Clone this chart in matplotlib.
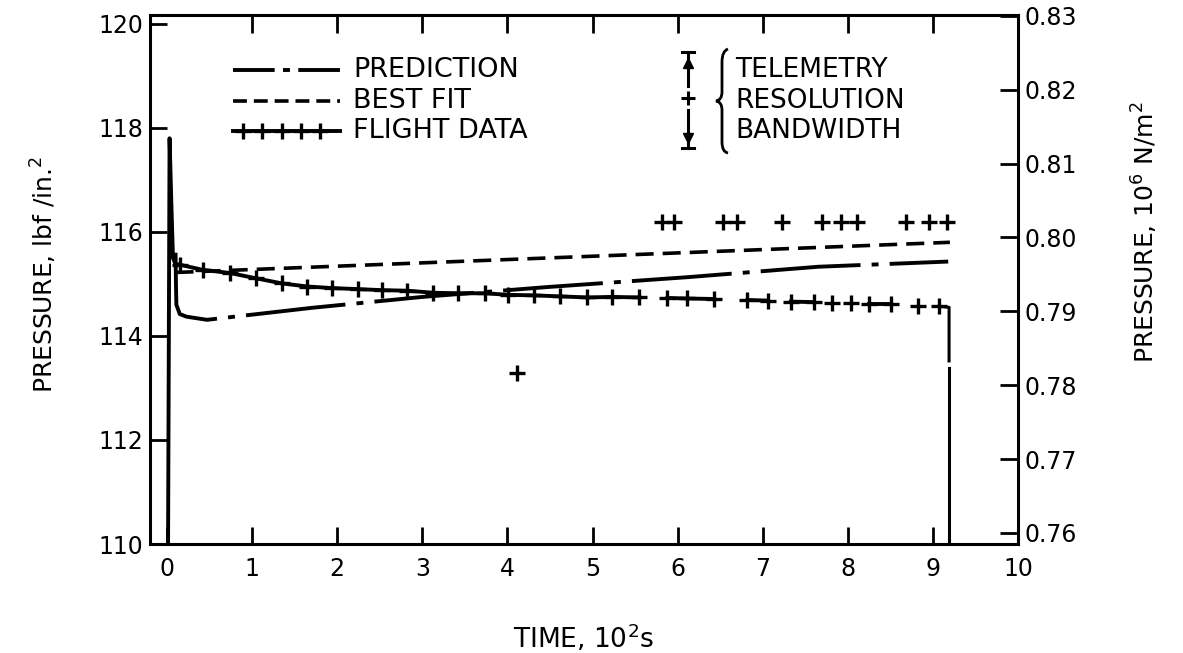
import numpy as np
import matplotlib
matplotlib.use("Agg")
from matplotlib import pyplot as plt
from matplotlib.path import Path
from matplotlib.patches import PathPatch

# time in 10^2 s, pressure in lbf/in.^2
spike_t = [0.01, 0.03, 0.05, 0.07, 0.10, 0.15]
spike_p = [109.0, 117.8, 116.6, 115.5, 115.38, 115.37]

flight_t = [0.15, 0.42, 0.74, 1.04, 1.35, 1.65, 1.94, 2.24, 2.53, 2.82, 3.13,
            3.42, 3.74, 4.01, 4.31, 4.62, 4.94, 5.23, 5.55, 5.88, 6.11, 6.43,
            6.82, 7.06, 7.33, 7.60, 7.82, 8.04, 8.25, 8.51, 8.82, 9.07]
flight_p = [115.37, 115.27, 115.21, 115.11, 115.01, 114.95, 114.92, 114.90,
            114.88, 114.87, 114.83, 114.82, 114.82, 114.79, 114.78, 114.76,
            114.74, 114.75, 114.74, 114.73, 114.72, 114.71, 114.69, 114.68,
            114.66, 114.65, 114.64, 114.63, 114.62, 114.62, 114.57, 114.57]
# line is broken after these points in the late part of the record
flight_breaks = [18, 21, 23, 25, 26, 27, 29, 30]

# engine cutoff trace
cutoff_t = [9.07, 9.19, 9.19, 9.19, 9.19]
cutoff_p = [114.57, 114.55, 113.52, 113.38, 109.0]

# scattered telemetry points
stray_t = [5.82, 5.96, 6.53, 6.70, 7.23, 7.70, 7.92, 8.11, 8.68, 8.96, 9.17, 4.11]
stray_p = [116.2, 116.2, 116.2, 116.2, 116.2, 116.2, 116.2, 116.2, 116.2, 116.2, 116.2, 113.29]

pred_t = [0.10, 0.105, 0.11, 0.15, 0.23, 0.47, 1.7, 3.0, 4.47, 6.12, 7.65, 9.18]
pred_p = [115.6, 115.0, 114.6, 114.42, 114.37, 114.31, 114.54, 114.75, 114.94,
          115.13, 115.33, 115.43]

bestfit_t = [0.10, 9.20]
bestfit_p = [115.22, 115.80]

time_ticks = list(range(0, 11))
psi_ticks = [110, 112, 114, 116, 118, 120]
mpa_ticks = [0.76, 0.77, 0.78, 0.79, 0.80, 0.81, 0.82, 0.83]

plt.rcParams['font.family'] = ['DejaVu Sans']
plt.rcParams['lines.scale_dashes'] = False

W, H = 1183, 653
AX_L, AX_R, AX_T, AX_B = 150, 1018, 15, 544


def px(x, y):
    # figure pixel -> axes fraction, used for the hand drawn key
    return (x - AX_L) / (AX_R - AX_L), (AX_B - y) / (AX_B - AX_T)


fig = plt.figure(figsize=(W / 100, H / 100), dpi=100)
ax = fig.add_axes([AX_L / W, 1 - AX_B / H, (AX_R - AX_L) / W, (AX_B - AX_T) / H])

LW = 2.8
plus = dict(marker='+', markersize=12, markeredgewidth=2.4, color='black')

# flight data
ax.plot(spike_t, spike_p, color='black', lw=LW)
start = 0
for b in flight_breaks + [len(flight_t) - 1]:
    ax.plot(flight_t[start:b + 1], flight_p[start:b + 1], color='black', lw=LW)
    start = b + 1
ax.plot(flight_t, flight_p, linestyle='none', **plus)
ax.plot(cutoff_t[:3], cutoff_p[:3], color='black', lw=2.2)
ax.plot(cutoff_t[3:], cutoff_p[3:], color='black', lw=2.2)
ax.plot(stray_t, stray_p, linestyle='none', **plus)

# prediction and best fit
ax.plot(pred_t, pred_p, color='black', lw=LW, dashes=(72, 8, 5, 8))
ax.plot(bestfit_t, bestfit_p, color='black', lw=2.6, dashes=(13, 6.5))

ax.set_xlim(-0.2, 10.0)
ax.set_ylim(110, 120.17)
ax.set_xticks(time_ticks)
ax.set_yticks(psi_ticks)
ax.tick_params(direction='in', length=12, width=2, labelsize=17, pad=9)
ax.tick_params(axis='y', pad=5)
for s in ax.spines.values():
    s.set_linewidth(2.2)

top = ax.secondary_xaxis('top')
top.set_xticks(range(1, 10))
top.tick_params(direction='in', length=13, width=2, labeltop=False)

ax2 = ax.twinx()
ax2.set_ylim(0.7585, 0.8301)
ax2.set_yticks(mpa_ticks)
ax2.set_yticklabels(['%.2f' % v for v in mpa_ticks])
ax2.tick_params(direction='in', length=13, width=2, labelsize=17, pad=5)

ax.set_xlabel(r'TIME, 10$^2$s', fontsize=19, labelpad=30)
ax.set_ylabel(r'PRESSURE, lbf /in.$^2$', fontsize=18, labelpad=28)
ax.yaxis.label.set_y(0.51)
ax2.set_ylabel(r'PRESSURE, 10$^6$ N/m$^2$', fontsize=18, labelpad=38)
ax2.yaxis.label.set_y(0.59)

# key, left block
rows = [70, 101, 131]
names = ['PREDICTION', 'BEST FIT', 'FLIGHT DATA']
x0, _ = px(233, 0)
x1, _ = px(340, 0)
ky = [px(0, r)[1] for r in rows]
ax.plot([x0, x1], [ky[0]] * 2, transform=ax.transAxes, color='black', lw=LW,
        dashes=(30, 6, 5, 6))
ax.plot([x0, x1], [ky[1]] * 2, transform=ax.transAxes, color='black', lw=2.6,
        dashes=(10, 5))
ax.plot([x0, x1], [ky[2]] * 2, transform=ax.transAxes, color='black', lw=LW)
ax.plot(np.linspace(px(243, 0)[0], px(320, 0)[0], 5), [ky[2]] * 5,
        transform=ax.transAxes, linestyle='none', **plus)
for name, y in zip(names, ky):
    ax.text(px(353, 0)[0], y, name, transform=ax.transAxes, fontsize=19.5,
            va='center', ha='left')

# key, right block: telemetry resolution symbol, brace and text
sx = px(688, 0)[0]
ax.plot([sx, sx], [px(0, 52)[1], px(0, 86)[1]], transform=ax.transAxes, color='black', lw=2.2)
ax.plot([sx, sx], [px(0, 110)[1], px(0, 148)[1]], transform=ax.transAxes, color='black', lw=2.2)
for yy in (52, 148):
    ax.plot([px(682, 0)[0], px(694, 0)[0]], [px(0, yy)[1]] * 2,
            transform=ax.transAxes, color='black', lw=2.2)
ax.plot([sx], [px(0, 63)[1]], transform=ax.transAxes, marker='^', markersize=7, color='black')
ax.plot([sx], [px(0, 138)[1]], transform=ax.transAxes, marker='v', markersize=7, color='black')
ax.plot([sx], [px(0, 98)[1]], transform=ax.transAxes, linestyle='none', marker='+',
        markersize=10, markeredgewidth=2.2, color='black')

brace_px = [(728, 49), (722, 51), (722, 62), (722, 92), (722, 100), (716, 101),
            (722, 102), (722, 110), (722, 142), (722, 152), (728, 153)]
codes = [Path.MOVETO, Path.CURVE3, Path.CURVE3, Path.LINETO, Path.CURVE3, Path.CURVE3,
         Path.CURVE3, Path.CURVE3, Path.LINETO, Path.CURVE3, Path.CURVE3]
brace = Path([px(x, y) for x, y in brace_px], codes)
ax.add_patch(PathPatch(brace, transform=ax.transAxes, fill=False, lw=2.0, color='black'))

for name, y in zip(['TELEMETRY', 'RESOLUTION', 'BANDWIDTH'], ky):
    ax.text(px(735, 0)[0], y, name, transform=ax.transAxes, fontsize=19,
            va='center', ha='left')

fig.savefig('out.png', dpi=100, facecolor='white')
